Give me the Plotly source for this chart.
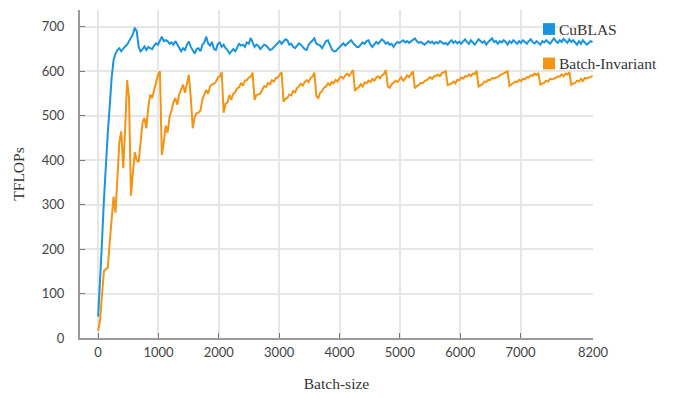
import plotly.graph_objects as go

# Batch sizes: 1, then every 32 up to 8192
BATCH_SIZES = [1] + list(range(32, 8193, 32))

CUBLAS = [
    48, 120, 215, 310, 400, 460, 520, 585, 625, 640, 648, 652, 645, 652, 656, 660,
    668, 675, 683, 698, 690, 655, 645, 650, 656, 648, 655, 652, 650, 658, 663, 660,
    668, 678, 668, 670, 668, 662, 665, 660, 668, 660, 655, 645, 652, 648, 660, 667,
    655, 648, 640, 650, 652, 645, 660, 665, 678, 662, 658, 666, 650, 648, 662, 665,
    655, 660, 652, 648, 640, 645, 650, 645, 655, 662, 658, 660, 655, 665, 662, 675,
    665, 655, 660, 657, 650, 655, 660, 658, 652, 648, 650, 655, 660, 665, 668, 662,
    668, 672, 670, 660, 662, 655, 652, 658, 663, 660, 655, 650, 648, 660, 665, 670,
    674, 662, 660, 658, 652, 660, 668, 670, 660, 650, 645, 645, 650, 655, 660, 663,
    658, 662, 665, 670, 664, 660, 655, 655, 660, 665, 662, 668, 670, 660, 655, 662,
    666, 662, 668, 672, 668, 662, 665, 660, 662, 655, 662, 666, 664, 668, 670, 665,
    668, 664, 668, 672, 674, 668, 664, 666, 662, 660, 664, 668, 664, 667, 662, 666,
    663, 668, 665, 662, 664, 660, 666, 670, 664, 668, 663, 667, 662, 668, 672, 666,
    662, 670, 664, 660, 666, 672, 668, 664, 668, 660, 666, 670, 674, 666, 668, 662,
    668, 665, 670, 666, 660, 668, 664, 670, 666, 662, 668, 664, 670, 667, 662, 668,
    672, 666, 663, 668, 664, 660, 668, 665, 670, 666, 662, 668, 674, 668, 664, 670,
    666, 673, 668, 664, 672, 666, 670, 664, 660, 668, 662, 670, 666, 660, 664, 668,
    666,
]

BATCH_INVARIANT = [
    16, 40, 95, 150, 155, 158, 215, 265, 318, 282, 360, 440, 465, 382, 470, 580,
    540, 320, 372, 418, 400, 396, 440, 485, 495, 472, 520, 548, 540, 556, 574, 592,
    600, 412, 440, 478, 462, 498, 512, 530, 540, 525, 548, 560, 570, 552, 575, 592,
    540, 472, 497, 506, 507, 512, 537, 548, 558, 550, 567, 570, 572, 576, 586, 588,
    598, 507, 527, 530, 547, 536, 550, 553, 562, 564, 574, 568, 579, 580, 586, 588,
    597, 536, 547, 548, 550, 558, 567, 565, 574, 571, 580, 577, 585, 586, 591, 598,
    532, 538, 540, 548, 546, 556, 553, 562, 566, 572, 568, 576, 580, 576, 585, 588,
    597, 545, 540, 552, 556, 563, 566, 573, 569, 576, 573, 581, 577, 585, 588, 584,
    591, 595, 590, 598, 603, 556, 562, 564, 571, 566, 575, 573, 579, 576, 583, 579,
    586, 589, 584, 591, 594, 603, 566, 563, 571, 574, 579, 576, 583, 587, 578, 585,
    591, 587, 595, 600, 562, 567, 569, 574, 573, 578, 580, 583, 587, 583, 589, 590,
    593, 589, 596, 598, 600, 569, 571, 573, 577, 573, 581, 580, 586, 584, 589, 588,
    593, 589, 595, 594, 601, 566, 569, 571, 577, 576, 581, 580, 585, 584, 586, 587,
    591, 593, 596, 597, 600, 567, 571, 573, 577, 576, 581, 578, 583, 582, 587, 586,
    591, 590, 595, 592, 596, 569, 573, 574, 579, 577, 583, 582, 584, 585, 589, 588,
    593, 589, 595, 593, 598, 570, 573, 574, 579, 577, 583, 578, 585, 584, 586, 587,
    590,
]

SERIES_NAMES = ["CuBLAS", "Batch-Invariant"]
SERIES_COLORS = ["#1b93dd", "#f39414"]
X_TICKS = [0, 1000, 2000, 3000, 4000, 5000, 6000, 7000, 8200]
Y_TICKS = [0, 100, 200, 300, 400, 500, 600, 700]

SERIF = "Liberation Serif"
SANS = "Lato"

fig = go.Figure()
for name, vals, col in zip(SERIES_NAMES, [CUBLAS, BATCH_INVARIANT], SERIES_COLORS):
    fig.add_trace(go.Scatter(
        x=BATCH_SIZES, y=vals, mode="lines", name=name,
        line=dict(color=col, width=2), showlegend=False,
    ))

# legend drawn as squares + labels (paper coordinates)
leg_y = [0.942, 0.837]
for name, col, yy in zip(SERIES_NAMES, SERIES_COLORS, leg_y):
    fig.add_shape(type="rect", xref="paper", yref="paper",
                  x0=0.9025, x1=0.926, y0=yy - 0.018, y1=yy + 0.018,
                  fillcolor=col, line=dict(width=0), layer="above")
    fig.add_annotation(xref="paper", yref="paper", x=0.929, y=yy,
                       text=name, showarrow=False, xanchor="left", yanchor="middle",
                       font=dict(family=SERIF, size=15.5, color="#333"))

axis_common = dict(
    showline=True, linecolor="#9a9a9a", linewidth=2,
    ticks="inside", ticklen=5, tickcolor="#777", tickwidth=1,
    showgrid=True, gridcolor="#e6e6e6", gridwidth=1.5,
    zeroline=False,
    tickfont=dict(family=SANS, size=13, color="#444"),
)

fig.update_layout(
    width=678, height=398,
    margin=dict(l=72, r=93, t=2, b=68),
    paper_bgcolor="white", plot_bgcolor="white",
    xaxis=dict(range=[-300, 8200], tickvals=X_TICKS,
               ticktext=[str(v) for v in X_TICKS],
               title=dict(text="Batch-size", font=dict(family=SERIF, size=15.5, color="#333"),
                          standoff=20),
               ticklabelstandoff=1,
               **axis_common),
    yaxis=dict(range=[0, 738], tickvals=Y_TICKS,
               title=dict(text="TFLOPs", font=dict(family=SERIF, size=15.5, color="#333"),
                          standoff=13),
               ticklabelstandoff=11,
               **axis_common),
    showlegend=False,
)

fig.write_html("out.html")
